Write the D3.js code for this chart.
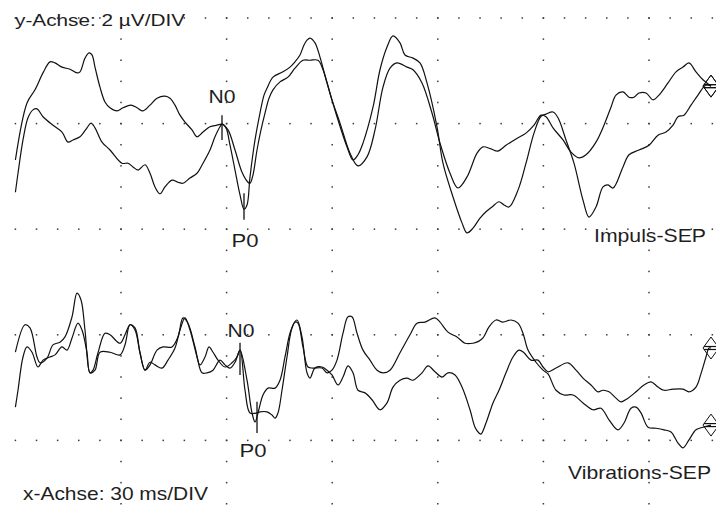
<!DOCTYPE html>
<html><head><meta charset="utf-8">
<script src="https://cdn.jsdelivr.net/npm/d3@7"></script>
<style>body{margin:0;background:#fff} svg{display:block}</style>
</head><body><svg id="c" width="716" height="506"></svg>
<script>
// time in ms, amplitude in µV (negative up)
const impulsA = [[0,0.69],[3.3,-0.39],[5.57,-0.64],[7.84,-0.96],[9.83,-1.17],[11.25,-1.15],[13.24,-1.07],[15.51,-1.03],[17.5,-0.96],[18.35,-0.98],[19.77,-1.24],[20.91,-1.34],[21.76,-1.3],[22.61,-1.07],[24.03,-0.69],[25.45,-0.41],[26.88,-0.3],[28.86,-0.24],[30.57,-0.3],[32.84,-0.35],[34.55,-0.3],[36.25,-0.24],[38.24,-0.35],[40.23,-0.48],[42.5,-0.52],[43.92,-0.48],[45.34,-0.35],[46.76,-0.16],[48.18,-0.03],[50.17,0.12],[51.59,0.25],[53.3,0.16],[55.28,0.06],[57.27,0.03],[58.69,0.01],[60.4,0.12],[62.39,0.5],[64.38,0.92],[66.08,1.11],[66.65,1.13],[67.5,0.97],[68.64,0.5],[69.77,0.12],[70.91,-0.2],[72.05,-0.48],[73.18,-0.64],[75.17,-0.79],[77.44,-0.88],[79.43,-1.05],[81.7,-1.2],[83.69,-1.2],[85.97,-1.2],[87.39,-1.02],[89.94,-0.45],[92.22,-0.01],[95.06,0.56],[97.33,0.8],[99.89,0.63],[102.16,0.12],[104.43,-0.69],[106.42,-1.05],[108.41,-1.15],[111.25,-1.07],[112.95,-1.02],[115.51,-0.77],[118.35,-0.2],[120.63,0.37],[123.47,0.94],[125.74,1.22],[128.3,1.01],[131.14,0.56],[132.84,0.44],[135.11,0.48],[137.1,0.52],[139.37,0.41],[142.22,0.29],[145.06,0.18],[147.33,0.03],[149.32,-0.16],[150.74,-0.13],[152.73,0.08],[155.57,0.31],[157.84,0.54],[160.11,0.65],[162.1,0.59],[164.94,0.35],[167.21,0.03],[169.2,-0.31],[170.62,-0.54],[172.61,-0.6],[174.32,-0.5],[175.74,-0.5],[177.16,-0.58],[179.15,-0.58],[181.14,-0.45],[182.84,-0.54],[185.4,-0.77],[187.67,-0.98],[189.66,-1.07],[191.36,-1.15],[193.35,-0.98],[195.34,-0.83],[197.61,-0.71]];
const impulsB = [[0,1.3],[0.74,0.94],[2.16,0.31],[3.58,-0.11],[5.0,-0.26],[6.14,-0.28],[7.84,-0.13],[10.68,0.03],[13.24,0.16],[14.94,0.35],[16.36,0.31],[18.35,0.25],[20.34,0.08],[21.48,-0.01],[22.61,0.08],[24.6,0.35],[26.88,0.5],[30.28,0.75],[31.99,0.75],[33.41,0.82],[34.83,0.88],[36.82,0.78],[38.24,0.94],[39.66,1.2],[41.08,1.33],[42.5,1.2],[44.49,1.07],[46.19,1.11],[47.61,1.13],[49.6,1.03],[51.59,0.94],[53.3,0.75],[55.28,0.5],[56.7,0.25],[58.12,0.06],[58.69,0.01],[59.83,0.08],[60.97,0.41],[62.39,0.88],[63.81,1.35],[64.94,1.62],[65.8,1.54],[66.65,1.01],[68.07,0.31],[69.49,-0.2],[70.63,-0.54],[71.48,-0.67],[73.18,-0.88],[76.02,-0.98],[78.01,-1.07],[79.43,-1.17],[80.85,-1.3],[81.99,-1.49],[82.84,-1.58],[83.69,-1.62],[85.11,-1.53],[86.53,-1.26],[88.52,-0.77],[91.36,-0.13],[94.2,0.44],[95.91,0.69],[97.33,0.59],[98.75,0.37],[101.59,-0.31],[103.58,-1.02],[105.57,-1.45],[107.27,-1.66],[109.26,-1.53],[110.68,-1.3],[112.95,-1.24],[114.94,-1.15],[116.93,-0.77],[119.77,0.06],[121.47,0.75],[124.32,1.39],[126.87,1.88],[128.3,2.07],[130.0,1.98],[131.99,1.79],[133.69,1.67],[135.4,1.58],[137.39,1.48],[138.81,1.54],[140.23,1.58],[142.78,1.26],[145.06,0.75],[147.33,0.18],[149.32,-0.14],[150.74,-0.18],[152.73,-0.22],[154.15,-0.11],[156.42,0.31],[158.69,0.75],[161.25,1.45],[162.95,1.77],[164.94,1.58],[166.93,1.2],[168.35,1.16],[169.77,1.22],[172.61,0.82],[174.32,0.59],[177.16,0.5],[180.0,0.41],[182.56,0.22],[184.83,0.16],[186.82,0.03],[188.24,-0.13],[189.94,-0.16],[191.93,-0.35],[193.92,-0.54],[196.19,-0.73],[197.61,-0.71]];
const vibA = [[0,0.33],[2.73,-0.19],[4.15,-0.13],[6.14,0.42],[6.99,0.53],[8.98,0.44],[10.68,0.19],[12.67,0.14],[14.09,0.04],[16.08,-0.34],[17.5,-0.79],[18.64,-0.66],[19.77,-0.09],[21.19,0.72],[22.05,0.67],[23.47,0.34],[25.45,-0.03],[26.88,0.0],[29.72,0.16],[31.14,0.0],[32.56,-0.19],[33.98,-0.13],[35.4,0.34],[36.82,0.67],[38.24,0.57],[40.23,0.29],[41.93,0.23],[44.49,0.23],[46.19,0.04],[47.61,-0.32],[49.03,-0.22],[51.02,0.23],[52.44,0.57],[53.87,0.42],[55.0,0.23],[56.14,0.33],[57.56,0.48],[59.55,0.61],[61.53,0.53],[62.95,0.42],[63.81,0.29],[65.8,0.86],[67.22,1.48],[68.07,1.65],[68.92,1.48],[70.34,1.14],[71.76,1.01],[73.75,1.01],[75.17,0.86],[76.59,0.42],[78.01,-0.03],[79.43,-0.24],[80.28,-0.22],[81.7,0.23],[83.12,0.61],[84.55,0.63],[87.1,0.63],[88.52,0.72],[89.94,0.67],[91.36,0.48],[93.07,-0.03],[94.49,-0.34],[95.62,-0.34],[97.05,-0.03],[98.75,0.29],[100.74,0.48],[102.73,0.67],[104.43,0.72],[106.42,0.67],[109.26,0.34],[112.1,0.0],[114.09,-0.22],[116.36,-0.24],[119.2,-0.32],[120.63,-0.24],[122.9,-0.05],[125.45,0.04],[127.72,0.16],[130.0,0.16],[131.7,0.12],[132.84,0.06],[134.55,-0.15],[136.54,-0.28],[138.52,-0.24],[140.8,-0.28],[142.78,-0.22],[144.2,-0.03],[145.63,0.29],[147.9,0.52],[149.89,0.67],[151.31,0.74],[153.58,1.05],[155.85,1.14],[158.41,1.14],[161.25,1.29],[164.09,1.42],[166.36,1.39],[168.64,1.61],[171.19,1.8],[172.9,1.67],[174.89,1.39],[176.31,1.37],[177.73,1.48],[179.72,1.75],[182.0,1.77],[184.27,1.8],[186.26,1.84],[188.24,2.05],[189.66,2.14],[191.36,1.99],[193.35,1.8],[195.34,1.75],[197.61,1.71]];
const vibB = [[0,1.37],[0.74,1.05],[2.16,0.42],[3.3,0.23],[4.72,0.33],[6.42,0.61],[7.84,0.48],[9.83,0.42],[11.25,0.38],[13.24,0.23],[14.66,0.29],[16.08,0.06],[17.78,-0.22],[18.92,-0.09],[20.34,0.34],[21.19,0.72],[22.61,0.67],[24.03,0.33],[26.88,0.33],[29.72,0.38],[31.14,0.19],[32.56,-0.19],[33.98,-0.09],[35.4,0.34],[36.82,0.67],[38.24,0.52],[39.66,0.57],[41.65,0.63],[43.35,0.48],[45.34,0.25],[46.76,-0.09],[48.18,-0.32],[49.6,-0.09],[51.59,0.42],[53.01,0.72],[54.43,0.72],[56.14,0.67],[58.12,0.48],[59.55,0.57],[60.97,0.63],[62.39,0.52],[63.81,0.29],[65.23,1.05],[66.65,1.48],[68.64,1.48],[69.49,1.46],[71.48,1.46],[72.9,1.52],[73.75,1.58],[74.6,1.48],[75.74,1.05],[77.16,0.42],[78.58,-0.13],[80.0,-0.28],[81.42,0.04],[82.84,0.72],[83.69,0.82],[85.11,0.63],[87.1,0.61],[88.52,0.67],[89.94,0.76],[91.65,0.95],[93.07,0.8],[94.49,0.59],[95.91,0.72],[97.33,1.05],[99.32,1.1],[101.31,1.23],[103.58,1.42],[105.57,1.29],[107.27,0.99],[109.26,0.86],[111.25,0.82],[112.95,0.86],[115.51,0.72],[117.22,0.59],[119.2,0.7],[121.19,0.8],[122.9,0.72],[124.89,0.76],[126.87,0.99],[129.15,1.42],[130.57,1.75],[131.7,1.86],[132.27,1.88],[133.69,1.67],[135.68,1.29],[137.39,1.05],[139.37,0.72],[141.36,0.42],[143.07,0.29],[144.49,0.34],[146.48,0.48],[148.47,0.48],[149.89,0.61],[151.31,0.7],[153.58,0.63],[156.99,0.53],[159.26,0.67],[161.25,0.82],[163.52,0.95],[165.51,1.08],[166.93,1.05],[168.64,1.08],[170.62,1.2],[172.04,1.27],[174.04,1.2],[176.31,1.08],[178.58,0.95],[180.57,0.89],[182.56,0.99],[184.27,1.05],[186.82,1.03],[189.66,1.03],[191.36,1.08],[193.35,0.99],[194.84,0.72],[196.19,0.42],[197.05,0.25],[197.61,0.25]];

// peak markers: [time, tick start µV, tick end µV]
const impulsPeaks = [["N0", 58.69, -0.16, 0.31], ["P0", 64.94, 1.32, 1.82]];
const vibPeaks = [["N0", 63.81, 0.15, 0.76], ["P0", 68.64, 1.27, 1.86]];

const xMajorTicks = [30, 60, 90, 120, 150, 180];
const xMinorStep = 6;
const xGridEnd = 198;
const yTopRows = [-2, 0, 2];
const yBotRows = [0, 2];
const yMinorStep = 0.4;

const labelX = "x-Achse: 30 ms/DIV";
const labelY = "y-Achse: 2 µV/DIV";
const titleTop = "Impuls-SEP";
const titleBot = "Vibrations-SEP";

const svg = d3.select("#c");
const x = d3.scaleLinear().domain([0, 210]).range([15.4, 15.4 + 7 * 105.6]);
const yTop = d3.scaleLinear().domain([-2, 2]).range([18, 229.2]);
const yBot = d3.scaleLinear().domain([-2, 2]).range([229.2, 440.4]);

const dotColor = "#3a3a3a";
const grid = svg.append("g");
// horizontal dotted rows
const rowYs = yTopRows.map(v => yTop(v)).concat(yBotRows.map(v => yBot(v)));
const minorTs = d3.range(0, xGridEnd + 0.01, xMinorStep);
rowYs.forEach(yy => {
  grid.selectAll(null).data(minorTs).enter().append("rect")
    .attr("x", d => x(d) - 0.75).attr("y", yy - 0.75)
    .attr("width", 1.5).attr("height", 1.5).attr("fill", dotColor);
});
// vertical dotted columns
const colVs = d3.range(-2, 7.21, yMinorStep);
xMajorTicks.forEach(t => {
  grid.selectAll(null).data(colVs).enter().append("rect")
    .attr("x", x(t) - 0.75).attr("y", d => yTop(d) - 0.75)
    .attr("width", 1.5).attr("height", 1.5).attr("fill", dotColor);
});

const lineTop = d3.line().x(d => x(d[0])).y(d => yTop(d[1])).curve(d3.curveCatmullRom.alpha(0.5));
const lineBot = d3.line().x(d => x(d[0])).y(d => yBot(d[1])).curve(d3.curveCatmullRom.alpha(0.5));

const traceColor = "#111";
[[impulsA, lineTop], [impulsB, lineTop], [vibA, lineBot], [vibB, lineBot]].forEach(([data, ln]) => {
  svg.append("path").attr("d", ln(data)).attr("fill", "none")
    .attr("stroke", traceColor).attr("stroke-width", 1.2).attr("stroke-linejoin", "round");
});

// end markers (diamonds)
function diamond(cx, cy, hw, hh) {
  const g = svg.append("g");
  g.append("path").attr("d", `M${cx-hw},${cy}L${cx},${cy-hh}L${cx+hw},${cy}L${cx},${cy+hh}Z`)
    .attr("fill", "none").attr("stroke", traceColor).attr("stroke-width", 1);
  g.append("line").attr("x1", cx-hw+1).attr("x2", cx+hw).attr("y1", cy-1.5).attr("y2", cy-1.5).attr("stroke", traceColor).attr("stroke-width", 1.2);
  g.append("line").attr("x1", cx-hw+1).attr("x2", cx+hw).attr("y1", cy+1.5).attr("y2", cy+1.5).attr("stroke", traceColor).attr("stroke-width", 1.2);
}
[[impulsA, yTop], [impulsB, yTop], [vibA, yBot], [vibB, yBot]].forEach(([data, ys]) => {
  const last = data[data.length - 1];
  diamond(x(last[0]), ys(last[1]), 8, 11);
});

const font = "'Liberation Sans', Arial, Helvetica, sans-serif";
const textColor = "#1e1e1e";
function label(txt, xx, yy, size, width, anchor) {
  svg.append("text").attr("x", xx).attr("y", yy).text(txt)
    .attr("font-family", font).attr("font-size", size).attr("fill", textColor)
    .attr("text-anchor", anchor || "start")
    .attr("textLength", width).attr("lengthAdjust", "spacingAndGlyphs");
}

// peak ticks and labels
function peaks(list, ys, offs) {
  list.forEach((p, i) => {
    const [name, t, v0, v1] = p;
    svg.append("line").attr("x1", x(t)).attr("x2", x(t)).attr("y1", ys(v0)).attr("y2", ys(v1))
      .attr("stroke", traceColor).attr("stroke-width", 1.3);
    const o = offs[i];
    label(name, x(t) + o[0], (o[2] === "top" ? ys(v0) : ys(v1)) + o[1], 18, 27, "middle");
  });
}
peaks(impulsPeaks, yTop, [[0, -12, "top"], [1, 27, "bot"]]);
peaks(vibPeaks, yBot, [[1, -6, "top"], [-4, 24, "bot"]]);

label(labelY, 15, 26, 17, 170);
label(labelX, 23, 500, 19, 185);
label(titleTop, 594, 242, 19, 112);
label(titleBot, 568, 479, 19, 143);
</script>
</body></html>
